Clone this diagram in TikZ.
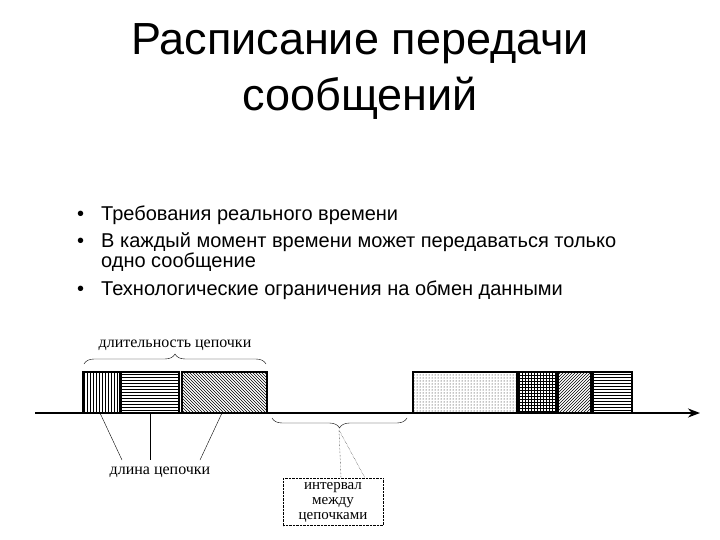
\documentclass[tikz,border=0pt]{standalone}
\usepackage{fontspec}
\setmainfont{Liberation Sans}
\newfontfamily\serifcyr{Liberation Serif}
\usetikzlibrary{patterns,decorations.pathreplacing,arrows.meta}
\begin{document}
\begin{tikzpicture}[x=1pt,y=-1pt,
  blk/.style={draw,line width=2pt},
  lbl/.style={font=\serifcyr\fontsize{16}{17}\selectfont},
  bul/.style={anchor=west,font=\fontsize{20}{20}\selectfont,align=left,inner sep=0pt},
  brc/.style={decorate,decoration={brace,amplitude=10pt},thin}]
\useasboundingbox (0,0) rectangle (720,540);
\node (t) at (360,72) [align=center,font=\fontsize{45}{56}\selectfont] {Расписание передачи\\сообщений};
\node (b1) at (77,215) [bul] {•\hspace{17pt}Требования реального времени};
\node (b2) at (77,252) [bul] {•\hspace{17pt}В каждый момент времени может передаваться только\\\phantom{•}\hspace{17pt}одно сообщение};
\node (b3) at (77,290) [bul] {•\hspace{17pt}Технологические ограничения на обмен данными};
\draw[blk,pattern=vertical lines] (83,372) rectangle (120,413);
\draw[blk,pattern=horizontal lines] (121,372) rectangle (179,413);
\draw[blk,pattern=north west lines] (182,372) rectangle (267,413);
\draw[blk,pattern=dots] (413,372) rectangle (517,413);
\draw[blk,pattern=grid] (519,372) rectangle (556,413);
\draw[blk,pattern=north east lines] (558,372) rectangle (591,413);
\draw[blk,pattern=horizontal lines] (593,372) rectangle (632,413);
\coordinate (a0) at (35,413);
\coordinate (a1) at (700,413);
\draw[line width=2pt,-{Stealth[length=12pt]}] (a0) -- (a1);
\draw[brc] (84,364) -- (266,364);
\node (dl) at (175,345) [lbl] {длительность цепочки};
\draw[brc] (407,418) -- (272,418);
\coordinate (bt) at (339,430);
\node (ln) at (160,472) [lbl] {длина цепочки};
\coordinate (p1) at (100,413); \coordinate (p2) at (150,413); \coordinate (p3) at (222,413);
\draw (p1) -- (122,460); \draw (p2) -- (150,460); \draw (p3) -- (200,460);
\node (iv) at (333,502) [draw,densely dotted,align=center,minimum width=100pt,minimum height=47pt,inner sep=1pt,font=\serifcyr\fontsize{15}{15}\selectfont] {интервал\\между\\цепочками};
\draw[densely dotted] (bt) -- (341,478);
\draw[densely dotted] (bt) -- (365,478);
\end{tikzpicture}
\end{document}
